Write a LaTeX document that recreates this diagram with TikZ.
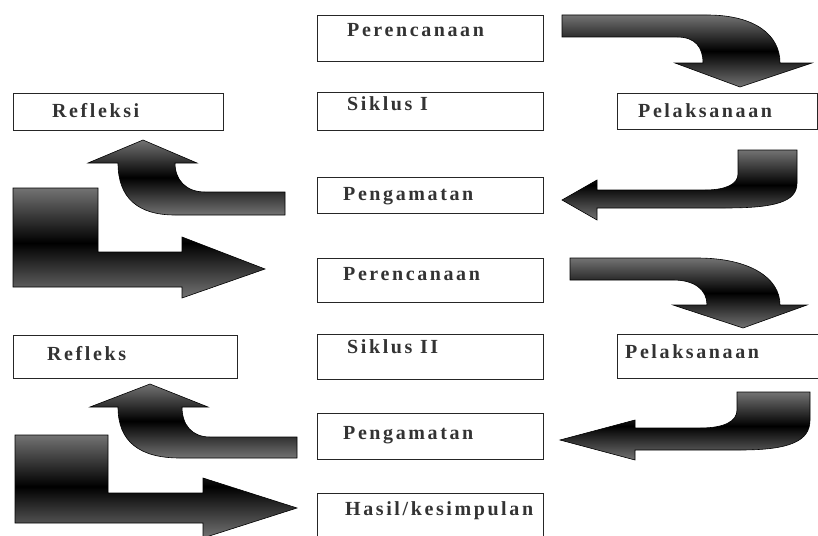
\documentclass[tikz,border=0pt]{standalone}
\usepackage{fontspec}
\setmainfont{Liberation Serif}
\newfontfamily\cyclefont[LetterSpace=13]{Liberation Serif}

\begin{document}
\begin{tikzpicture}[x=1pt, y=-1pt,
                    stepbox/.style={draw=black!85, line width=0.9pt, fill=white,
                                    anchor=north west, inner sep=0pt},
                    steptext/.style={anchor=base west, inner sep=0pt, text=black!80,
                                     font=\cyclefont\bfseries\fontsize{20}{20}\selectfont},
                    bigarrow/.style={draw=black, line width=0.6pt, top color=black!55,
                                     bottom color=black!55, middle color=black}]
    \useasboundingbox (0,0) rectangle (818,535);
    \clip (0,0) rectangle (818,535);

    \node[stepbox, minimum width=226, minimum height=46] (plan1) at (317,15) {};
    \node[steptext] (plan1t) at ([shift={(30,22)}]plan1.north west) {Perencanaan};
    \node[stepbox, minimum width=226, minimum height=38] (cycle1) at (317,92) {};
    \node[steptext] (cycle1t) at ([shift={(30,18)}]cycle1.north west) {Siklus I};
    \node[stepbox, minimum width=226, minimum height=36] (obs1) at (317,177) {};
    \node[steptext] (obs1t) at ([shift={(26,23)}]obs1.north west) {Pengamatan};
    \node[stepbox, minimum width=226, minimum height=44] (plan2) at (317,258) {};
    \node[steptext] (plan2t) at ([shift={(26,22)}]plan2.north west) {Perencanaan};
    \node[stepbox, minimum width=226, minimum height=45] (cycle2) at (317,334) {};
    \node[steptext] (cycle2t) at ([shift={(30,19)}]cycle2.north west) {Siklus II};
    \node[stepbox, minimum width=226, minimum height=46] (obs2) at (317,413) {};
    \node[steptext] (obs2t) at ([shift={(26,26)}]obs2.north west) {Pengamatan};
    \node[stepbox, minimum width=226, minimum height=60] (result) at (317,493) {};
    \node[steptext] (resultt) at ([shift={(28,22)}]result.north west) {Hasil/kesimpulan};

    \node[stepbox, minimum width=210, minimum height=37] (refl1) at (13,93) {};
    \node[steptext] (refl1t) at ([shift={(39,24)}]refl1.north west) {Refleksi};
    \node[stepbox, minimum width=224, minimum height=43] (refl2) at (13,335) {};
    \node[steptext] (refl2t) at ([shift={(34,25)}]refl2.north west) {Refleks};

    \node[stepbox, minimum width=200, minimum height=36] (act1) at (617,93) {};
    \node[steptext] (act1t) at ([shift={(21,24)}]act1.north west) {Pelaksanaan};
    \node[stepbox, minimum width=220, minimum height=44] (act2) at (617,334) {};
    \node[steptext] (act2t) at ([shift={(8,24)}]act2.north west) {Pelaksanaan};

    \path[bigarrow] (562,15) -- (707,15) .. controls (755,15) and (780,35) .. (780,63)
        -- (812,63) -- (740,87) -- (675,63) -- (703,63)
        .. controls (703,47) and (695,37) .. (677,37) -- (562,37) -- cycle;
    \path[bigarrow] (738,150) -- (797,150) -- (797,183)
        .. controls (797,202) and (775,208) .. (725,208) -- (597,208) -- (597,220)
        -- (562,200) -- (597,180) -- (597,190) -- (705,190)
        .. controls (726,190) and (738,184) .. (738,174) -- cycle;
    \path[bigarrow] (285,192) -- (205,192) .. controls (186,192) and (175,180) .. (175,163)
        -- (197,163) -- (143,140) -- (88,163) -- (118,163)
        .. controls (118,198) and (138,215) .. (175,215) -- (285,215) -- cycle;
    \path[bigarrow] (13,188) -- (98,188) -- (98,252) -- (182,252) -- (182,237)
        -- (265,269) -- (182,298) -- (182,287) -- (13,287) -- cycle;

    \path[bigarrow] (570,258) -- (697,258) .. controls (750,258) and (780,278) .. (780,305)
        -- (807,305) -- (743,328) -- (673,305) -- (707,305)
        .. controls (707,290) and (695,280) .. (673,280) -- (570,280) -- cycle;
    \path[bigarrow] (737,392) -- (810,392) -- (810,420)
        .. controls (810,441) and (790,450) .. (740,450) -- (635,450) -- (635,460)
        -- (560,440) -- (635,420) -- (635,428) -- (700,428)
        .. controls (725,428) and (737,421) .. (737,410) -- cycle;
    \path[bigarrow] (297,437) -- (210,437) .. controls (192,437) and (182,425) .. (182,407)
        -- (208,407) -- (150,384) -- (90,407) -- (118,407)
        .. controls (118,442) and (140,458) .. (180,458) -- (297,458) -- cycle;
    \path[bigarrow] (15,435) -- (108,435) -- (108,493) -- (203,493) -- (203,478)
        -- (297,508) -- (203,538) -- (203,523) -- (15,523) -- cycle;
\end{tikzpicture}
\end{document}
